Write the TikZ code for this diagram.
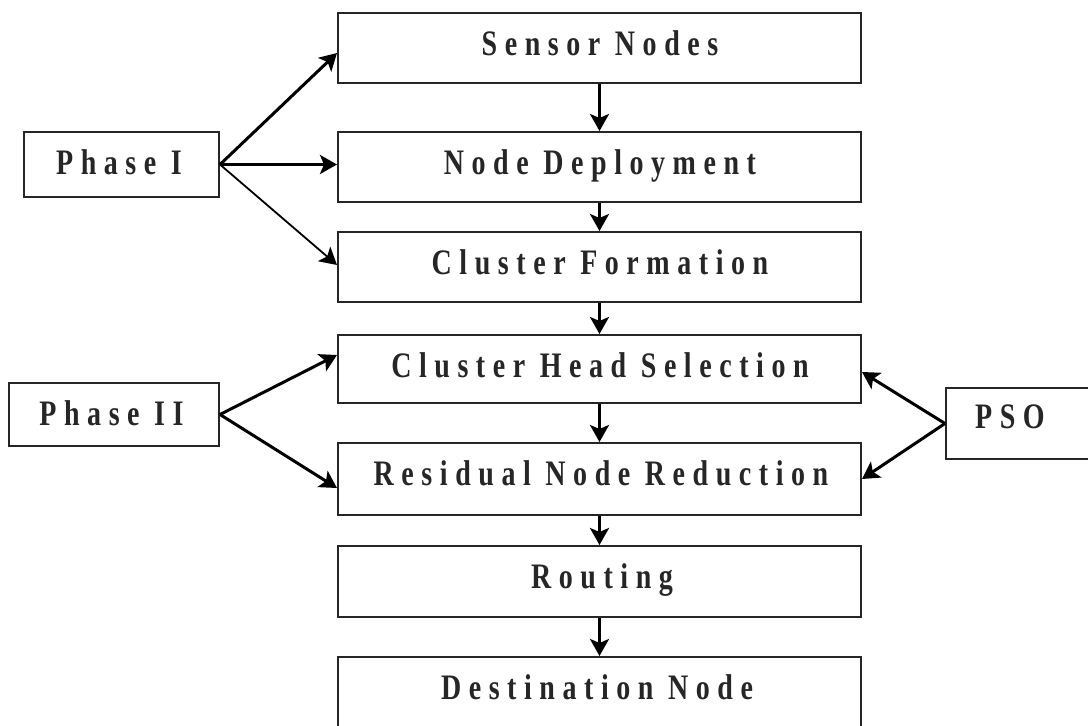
\documentclass[tikz,border=0pt]{standalone}
\usepackage{fontspec}
\usepackage{graphicx}
\usetikzlibrary{arrows.meta}
\newfontfamily\lblfont[LetterSpace=27]{Liberation Serif}
\newcommand{\lbltext}[1]{\scalebox{1}[1.28]{\lblfont\bfseries\fontsize{28}{34}\selectfont #1}}
\tikzset{
  box/.style={draw=black!85, line width=2pt, rectangle, inner sep=0pt},
  lbl/.style={anchor=base, inner sep=0pt, text=black!85},
  arr/.style={line width=3pt, draw=black, -{Stealth[length=17pt,width=19pt,inset=4pt]}},
  arrthin/.style={arr, line width=1.8pt},
}
\begin{document}
\begin{tikzpicture}[x=1pt,y=-1pt]
\clip (0,0) rectangle (1088,726);
\fill[white] (0,0) rectangle (1088,726);
% main column boxes
\node[box, minimum width=523pt, minimum height=70pt] (sensor) at (599.5,48) {};
\node[box, minimum width=523pt, minimum height=70pt] (deploy) at (599.5,167) {};
\node[box, minimum width=523pt, minimum height=70pt] (form) at (599.5,267) {};
\node[box, minimum width=523pt, minimum height=68pt] (chs) at (599.5,369) {};
\node[box, minimum width=523pt, minimum height=72pt] (rnr) at (599.5,479) {};
\node[box, minimum width=523pt, minimum height=71pt] (route) at (599.5,581.5) {};
\node[box, minimum width=523pt, minimum height=100pt] (dest) at (599.5,707) {};
% side boxes
\node[box, minimum width=195pt, minimum height=65pt] (ph1) at (121.5,164.5) {};
\node[box, minimum width=210pt, minimum height=63pt] (ph2) at (114,414.5) {};
\node[box, minimum width=160pt, minimum height=71pt] (pso) at (1026,423.5) {};
% labels
\node[lbl] (tsensor) at (600,55) {\lbltext{Sensor Nodes}};
\node[lbl] (tdeploy) at (600,174) {\lbltext{Node Deployment}};
\node[lbl] (tform) at (600,274) {\lbltext{Cluster Formation}};
\node[lbl] (tchs) at (600,377) {\lbltext{Cluster Head Selection}};
\node[lbl] (trnr) at (601,485) {\lbltext{Residual Node Reduction}};
\node[lbl] (troute) at (602,588) {\lbltext{Routing}};
\node[lbl] (tdest) at (597,699) {\lbltext{Destination Node}};
\node[lbl] (tph1) at (119,174) {\lbltext{Phase I}};
\node[lbl] (tph2) at (111.5,425) {\lbltext{Phase II}};
\node[lbl] (tpso) at (1010,428) {\lbltext{PSO}};
% vertical arrows
\draw[arr] (sensor.south) -- (deploy.north);
\draw[arr] (deploy.south) -- (form.north);
\draw[arr] (form.south) -- (chs.north);
\draw[arr] (chs.south) -- (rnr.north);
\draw[arr] (rnr.south) -- (route.north);
\draw[arr] (route.south) -- (dest.north);
% phase I
\draw[arr] (ph1.east) -- ([yshift=-5pt]sensor.west);
\draw[arr] (ph1.east) -- ([yshift=2.5pt]deploy.west);
\draw[arrthin] (ph1.east) -- ([yshift=2pt]form.west);
% phase II
\draw[arr] (ph2.east) -- ([yshift=14pt]chs.west);
\draw[arr] (ph2.east) -- ([yshift=-9pt]rnr.west);
% PSO
\draw[arr] (pso.west) -- ([yshift=-3pt]chs.east);
\draw[arr] (pso.west) -- (rnr.east);
\end{tikzpicture}
\end{document}
